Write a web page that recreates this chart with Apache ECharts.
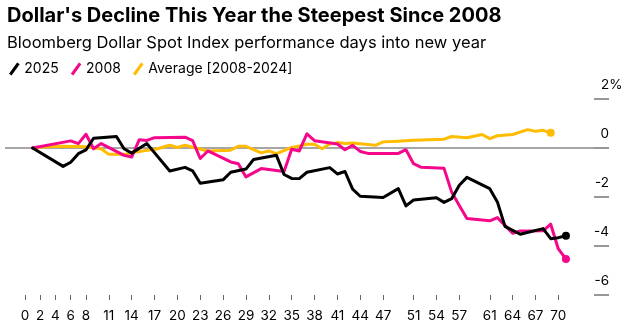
<!DOCTYPE html>
<html>
<head>
<meta charset="utf-8">
<script src="https://cdn.jsdelivr.net/npm/echarts@6/dist/echarts.min.js"></script>
<style>html,body{margin:0;padding:0;background:#fff}#c{width:636px;height:331px}</style>
</head>
<body>
<div id="c"></div>
<script>
const titleText = "Dollar's Decline This Year the Steepest Since 2008";
const subtitleText = "Bloomberg Dollar Spot Index performance days into new year";
const seriesNames = ["2025", "2008", "Average [2008-2024]"];
const xTickLabels = [0,2,4,6,8,11,14,17,20,23,26,29,32,35,38,41,44,47,51,54,57,61,64,67,70];
const yTicks = [-6,-4,-2,0,2];

const days2025 = [1,5,6,7,8,9,12,13,14,16,19,21,22,23,26,27,29,30,33,34,35,36,37,40,41,42,43,44,47,49,50,51,54,55,56,57,58,61,62,63,65,68,69,70,71];
const vals2025 = [0,-0.75,-0.58,-0.23,-0.08,0.40,0.47,-0.03,-0.21,0.18,-0.94,-0.79,-0.93,-1.44,-1.30,-0.99,-0.86,-0.47,-0.30,-1.08,-1.24,-1.25,-0.99,-0.80,-1.06,-0.96,-1.68,-1.97,-2.02,-1.66,-2.36,-2.12,-2.03,-2.22,-2.07,-1.52,-1.20,-1.66,-2.20,-3.20,-3.52,-3.29,-3.70,-3.66,-3.58];

const days2008 = [1,6,7,8,9,10,13,14,15,16,17,21,22,23,24,27,28,29,31,34,35,36,37,38,41,42,43,44,45,49,50,51,52,55,56,57,58,61,62,63,64,65,68,69,70,71];
const vals2008 = [0,0.29,0.18,0.56,-0.03,0.18,-0.30,-0.37,0.34,0.31,0.42,0.44,0.30,-0.43,-0.12,-0.57,-0.64,-1.18,-0.84,-0.96,-0.05,-0.12,0.58,0.30,0.16,-0.07,0.11,-0.14,-0.22,-0.22,-0.07,-0.64,-0.79,-0.83,-1.80,-2.35,-2.88,-2.97,-2.84,-3.16,-3.48,-3.39,-3.38,-3.11,-4.12,-4.53];

const daysAvg = [1,3,5,8,10,11,13,14,16,17,19,20,21,22,24,27,28,29,31,32,33,35,36,37,38,39,40,41,42,43,46,47,49,51,54,55,56,58,60,61,62,64,66,67,68,69];
const valsAvg = [0,0.05,0.07,0.05,-0.03,-0.26,-0.26,-0.20,-0.09,-0.06,0.11,0.02,0.11,0.03,-0.12,-0.09,0.07,0.07,-0.20,-0.12,-0.23,0.02,0.08,0.15,0.15,-0.03,0.16,0.22,0.18,0.20,0.11,0.25,0.28,0.32,0.35,0.36,0.47,0.42,0.55,0.38,0.50,0.55,0.75,0.68,0.72,0.62];

const colors = ['#000000', '#f5078c', '#ffbc00'];

function build(days, vals) {
  return days.map((d, i) => {
    if (i === days.length - 1) {
      return { value: [d, vals[i]], symbol: 'circle', symbolSize: 8 };
    }
    return [d, vals[i]];
  });
}

const legendIcon = 'path://M0,11 L8,0 L10.5,1.8 L2.5,12.8 Z';

const chart = echarts.init(document.getElementById('c'), null, { renderer: 'canvas' });
const fontFamily = 'Inter, "Liberation Sans", Arial, sans-serif';
const option = {
  animation: false,
  textStyle: { fontFamily },
  title: [
    { text: titleText, left: 2, top: 1, textStyle: { fontSize: 20, fontWeight: 'bold', color: '#000', fontFamily } },
    { text: subtitleText, left: 2, top: 30, textStyle: { fontSize: 16.5, fontWeight: 'normal', color: '#000', fontFamily } }
  ],
  legend: {
    left: 4, top: 57,
    itemWidth: 12, itemHeight: 13, itemGap: 12,
    textStyle: { fontSize: 14, color: '#000', fontFamily, padding: [0,0,0,-1] },
    data: seriesNames.map((n, i) => ({ name: n, icon: legendIcon, itemStyle: { color: colors[i] } }))
  },
  grid: { left: 5, right: 42, top: 99, bottom: 36 },
  xAxis: {
    type: 'value',
    min: -20 / 7.619,
    max: 569 / 7.619,
    axisLine: { show: false, onZero: false },
    splitLine: { show: false },
    axisTick: { show: true, customValues: xTickLabels, length: 5, lineStyle: { color: '#666', width: 1 } },
    axisLabel: { customValues: xTickLabels, margin: 14, fontSize: 13.5, color: '#000', fontFamily }
  },
  yAxis: {
    type: 'value',
    position: 'right',
    min: -6, max: 2, interval: 2,
    axisLine: { show: false, onZero: false },
    axisTick: { show: true, inside: false, length: 15, lineStyle: { color: '#777', width: 1.5 } },
    splitLine: { show: true, lineStyle: { color: ['rgba(0,0,0,0)','rgba(0,0,0,0)','rgba(0,0,0,0)','#888','rgba(0,0,0,0)'], width: 1.5 } },
    axisLabel: {
      inside: false, margin: 15, align: 'right', fontSize: 13.5, color: '#000', fontFamily,
      verticalAlign: 'bottom', padding: [0, 0, 7, 0],
      formatter: v => v === 2 ? '{w|2%}' : String(v),
      rich: { w: { fontSize: 13.5, fontFamily, width: 8, align: 'left' } }
    }
  },
  series: [
    { name: seriesNames[2], type: 'line', data: build(daysAvg, valsAvg), symbol: 'none', showSymbol: true, color: colors[2], lineStyle: { width: 3, color: colors[2], cap: 'round', join: 'round' }, itemStyle: { color: colors[2] }, z: 2 },
    { name: seriesNames[1], type: 'line', data: build(days2008, vals2008), symbol: 'none', showSymbol: true, color: colors[1], lineStyle: { width: 3, color: colors[1], cap: 'round', join: 'round' }, itemStyle: { color: colors[1] }, z: 3 },
    { name: seriesNames[0], type: 'line', data: build(days2025, vals2025), symbol: 'none', showSymbol: true, color: colors[0], lineStyle: { width: 3, color: colors[0], cap: 'round', join: 'round' }, itemStyle: { color: colors[0] }, z: 4 }
  ]
};
chart.setOption(option);
</script>
</body>
</html>
